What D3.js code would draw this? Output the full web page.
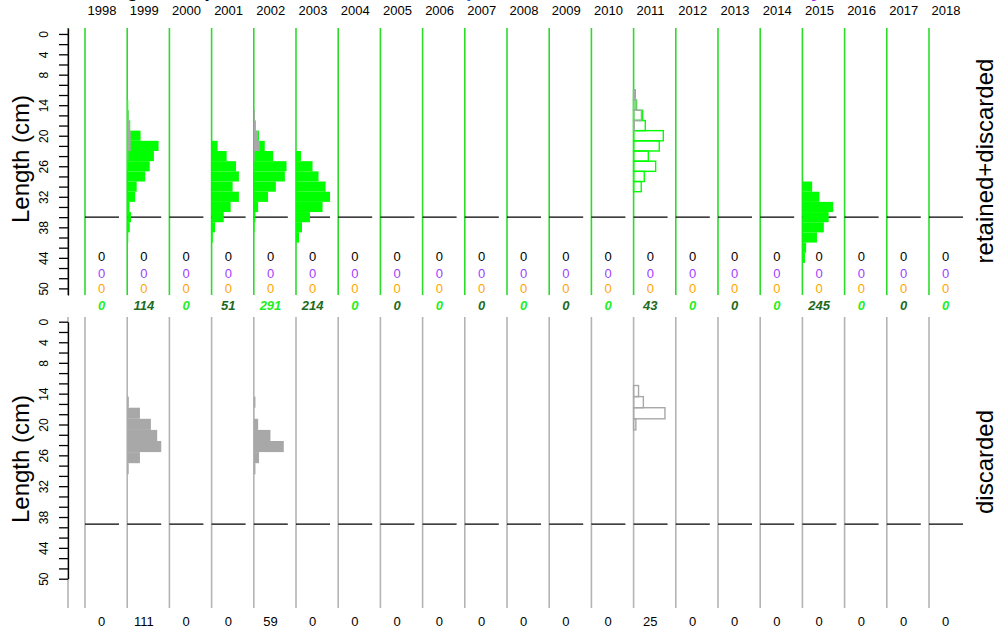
<!DOCTYPE html>
<html>
<head>
<meta charset="utf-8">
<script src="https://d3js.org/d3.v7.min.js"></script>
<style>
  body { margin: 0; background: #fff; }
  svg { display: block; font-family: "Liberation Sans", Arial, sans-serif; }
</style>
</head>
<body>
<div id="chart"></div>
<script>
// ----------------------------------------
// DATA (proportions)
// ----------------------------------------
const years = [1998, 1999, 2000, 2001, 2002, 2003, 2004, 2005, 2006, 2007, 2008,
               2009, 2010, 2011, 2012, 2013, 2014, 2015, 2016, 2017, 2018];
const lengthBins = [12, 14, 16, 18, 20, 22, 24, 26, 28, 30, 32, 34, 36, 38, 40, 42, 44];
const tickLabels = [0, 4, 8, 14, 20, 26, 32, 38, 44, 50];

// retained+discarded (total)
const total1999 = [0, .007, .010, .020, .089, .209, .178, .150, .120, .063, .053, .015, .025, .017, .007, 0, 0];
const total2001 = [0, 0, 0, 0, 0, .040, .100, .163, .182, .140, .182, .127, .081, .023, .008, 0, 0];
const total2002 = [0, 0, .007, .013, .035, .073, .129, .218, .207, .147, .095, .029, .010, .005, 0, 0, 0];
const total2003 = [0, 0, 0, 0, 0, 0, .033, .110, .150, .197, .227, .177, .093, .040, .020, 0, 0];
const total2011 = [.011, .020, .060, .078, .198, .171, .098, .147, .071, .051, 0, 0, 0, 0, 0, 0, 0];
const total2015 = [0, 0, 0, 0, 0, 0, 0, 0, 0, .065, .113, .205, .175, .143, .097, .025, .017];

// discarded share shown inside the top panel
const discTop1999 = [0, .005, .008, .019, .023, .023, .008, .003, 0, 0, 0, 0, 0, 0, 0, 0, 0];
const discTop2002 = [0, 0, .007, .010, .029, .040, .005, .002, 0, 0, 0, 0, 0, 0, 0, 0, 0];
const discTop2011 = [.008, .015, .052, .004, 0, 0, 0, 0, 0, 0, 0, 0, 0, 0, 0, 0, 0];

// discarded only (bottom panel)
const disc1999 = [0, .011, .085, .158, .200, .227, .085, .010, 0, 0, 0, 0, 0, 0, 0, 0, 0];
const disc2002 = [0, .011, .003, .029, .111, .200, .035, .011, 0, 0, 0, 0, 0, 0, 0, 0, 0];
const disc2011 = [.033, .065, .209, .015, 0, 0, 0, 0, 0, 0, 0, 0, 0, 0, 0, 0, 0];

// sample sizes under each column
const nBlack  = years.map(() => 0);
const nPurple = years.map(() => 0);
const nOrange = years.map(() => 0);
const nTop    = [0, 114, 0, 51, 291, 214, 0, 0, 0, 0, 0, 0, 0, 43, 0, 0, 0, 245, 0, 0, 0];
const nBottom = [0, 111, 0, 0, 59, 0, 0, 0, 0, 0, 0, 0, 0, 25, 0, 0, 0, 0, 0, 0, 0];

const topSeries = [
  { year: 1999, total: total1999, disc: discTop1999, hollow: false },
  { year: 2001, total: total2001, disc: null, hollow: false },
  { year: 2002, total: total2002, disc: discTop2002, hollow: false },
  { year: 2003, total: total2003, disc: null, hollow: false },
  { year: 2011, total: total2011, disc: discTop2011, hollow: true },
  { year: 2015, total: total2015, disc: null, hollow: false }
];
const bottomSeries = [
  { year: 1999, disc: disc1999, hollow: false },
  { year: 2002, disc: disc2002, hollow: false },
  { year: 2011, disc: disc2011, hollow: true }
];

// ----------------------------------------
// SETUP
// ----------------------------------------
const width = 1001, height = 632;
const green = "#00ff00", lineGreen = "#2bdc2b", darkGreen = "#1d6b1d";
const grey = "#a8a8a8", lineGrey = "#b4b4b4";

const svg = d3.select("#chart").append("svg")
  .attr("width", width).attr("height", height);

const x = d3.scalePoint().domain(years).range([85, 929]);
const w = d3.scaleLinear().domain([0, 0.25]).range([0, 37.5]);

const yTop = d3.scaleLinear().domain([-1.17, 51.3]).range([28, 295]);
const yBot = d3.scaleLinear().domain([-1.35, 51.1]).range([317, 608]);
const yBotAxis = d3.scaleLinear().domain([0, 50]).range([321.7, 578.7]);

// ----------------------------------------
// CLIPPED TITLE (only descenders visible)
// ----------------------------------------
const title = svg.append("text")
  .attr("y", -3)
  .style("font-size", "20px")
  .style("font-weight", "bold");
title.append("tspan").attr("x", 91).attr("fill", "#000").text("Length comp");
title.append("tspan").attr("x", 466).attr("fill", "#1f5fd0").text("p");
title.append("tspan").attr("x", 742).attr("fill", "#e03030").text(",");
title.append("tspan").attr("x", 811).attr("fill", "#9a30e0").text("y");

// year labels
svg.selectAll(".year-label")
  .data(years)
  .join("text")
  .attr("class", "year-label")
  .attr("x", d => x(d) + 17)
  .attr("y", 10)
  .attr("text-anchor", "middle")
  .attr("dominant-baseline", "central")
  .style("font-size", "13px")
  .text(d => d);

// ----------------------------------------
// PANEL FRAME: column lines, 36 cm marks
// ----------------------------------------
function drawFrame(y0, y1, color, yScale) {
  const xs = [68].concat(years.map(d => x(d)));
  svg.append("g").selectAll("line")
    .data(xs)
    .join("line")
    .attr("x1", d => d).attr("x2", d => d)
    .attr("y1", y0).attr("y2", y1)
    .attr("stroke", color)
    .attr("stroke-width", 1.6);

  svg.append("g").selectAll("line")
    .data(years)
    .join("line")
    .attr("x1", d => x(d)).attr("x2", d => x(d) + 34)
    .attr("y1", yScale(36)).attr("y2", yScale(36))
    .attr("stroke", "#000")
    .attr("stroke-width", 1.3);
}
drawFrame(28, 295, lineGreen, yTop);
drawFrame(317, 608, lineGrey, yBot);

// ----------------------------------------
// HISTOGRAM BARS
// ----------------------------------------
function drawBars(values, year, yScale, fill, hollow) {
  const rows = lengthBins
    .map((L, i) => ({ L, v: values[i] }))
    .filter(d => d.v > 0);

  svg.append("g").selectAll("rect")
    .data(rows)
    .join("rect")
    .attr("x", x(year))
    .attr("y", d => yScale(d.L - 1))
    .attr("width", d => w(d.v))
    .attr("height", d => yScale(d.L + 1) - yScale(d.L - 1))
    .attr("fill", hollow ? "none" : fill)
    .attr("stroke", hollow ? fill : "none")
    .attr("stroke-width", hollow ? 1.4 : 0);
}

topSeries.forEach(s => drawBars(s.total, s.year, yTop, green, s.hollow));
topSeries.filter(s => s.disc).forEach(s => drawBars(s.disc, s.year, yTop, grey, s.hollow));
bottomSeries.forEach(s => drawBars(s.disc, s.year, yBot, grey, s.hollow));

// ----------------------------------------
// Y AXES
// ----------------------------------------
function drawAxis(scale) {
  const g = svg.append("g")
    .attr("transform", "translate(68,0)")
    .call(d3.axisLeft(scale)
      .tickValues(d3.range(0, 51, 2))
      .tickSize(9)
      .tickSizeOuter(0)
      .tickFormat(d => tickLabels.includes(d) ? d : ""));
  g.select(".domain").attr("stroke", "#000").attr("stroke-width", 1.3);
  g.selectAll(".tick line").attr("stroke", "#000").attr("stroke-width", 1.3);
  g.selectAll(".tick text")
    .attr("x", 0).attr("dy", null)
    .attr("transform", "translate(-24,0) rotate(-90)")
    .attr("text-anchor", "middle")
    .attr("dominant-baseline", "central")
    .attr("fill", "#000")
    .style("font-size", "12px")
    .style("font-family", "Liberation Sans, Arial, sans-serif");
}
drawAxis(yTop);
drawAxis(yBotAxis);

// axis titles
[[159, "Length (cm)", 20], [459, "Length (cm)", 20],
 [161, "retained+discarded", 984], [462, "discarded", 984]].forEach(([cy, label, cx]) => {
  svg.append("text")
    .attr("transform", `translate(${cx},${cy}) rotate(-90)`)
    .attr("text-anchor", "middle")
    .attr("dominant-baseline", "central")
    .style("font-size", "24px")
    .text(label);
});

// ----------------------------------------
// SAMPLE SIZE ROWS
// ----------------------------------------
function drawCounts(values, cy, colorFn, italic) {
  svg.append("g").selectAll("text")
    .data(values)
    .join("text")
    .attr("x", (d, i) => x(years[i]) + 16.7)
    .attr("y", cy)
    .attr("text-anchor", "middle")
    .attr("dominant-baseline", "central")
    .attr("fill", colorFn)
    .style("font-size", "13px")
    .style("font-weight", italic ? "bold" : "normal")
    .style("font-style", italic ? "italic" : "normal")
    .text(d => d);
}
drawCounts(nBlack, 256.7, "#000", false);
drawCounts(nPurple, 273, "#a040ff", false);
drawCounts(nOrange, 288.5, "#ffa500", false);
drawCounts(nTop, 305, (d, i) => i % 2 === 0 ? "#22ee22" : darkGreen, true);
drawCounts(nBottom, 621.5, "#000", false);
</script>
</body>
</html>
